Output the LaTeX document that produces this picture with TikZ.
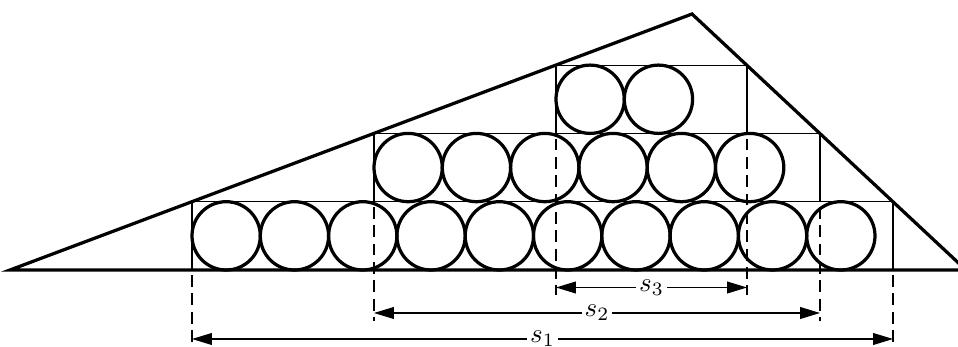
\documentclass[tikz,border=0pt]{standalone}
\usetikzlibrary{arrows.meta}
\begin{document}
\begin{tikzpicture}[x=0.37037pt,y=-0.37037pt,
  edge/.style={line width=1.2pt},
  ball/.style={circle,draw,line width=1.2pt,inner sep=0pt,minimum size=25.3pt},
  box/.style={line width=0.4pt},
  guide/.style={line width=0.4pt,dash pattern=on 4.4pt off 2.4pt},
  dim/.style={line width=0.4pt,{Triangle[length=7.4pt,width=4.4pt]}-{Triangle[length=7.4pt,width=4.4pt]}},
  lbl/.style={fill=white,inner sep=1pt}]
\useasboundingbox (0,0) rectangle (958,347);
\clip (0,0) rectangle (958,347);
% rows: corners
\coordinate (r1bl) at (192,270);   \coordinate (r1tr) at (893,201.7);
\coordinate (r2bl) at (374,201.7); \coordinate (r2tr) at (820,133.4);
\coordinate (r3bl) at (556,133.4); \coordinate (r3tr) at (747,65.1);
\coordinate (r1tl) at (192,201.7); \coordinate (r2tl) at (374,133.4); \coordinate (r3tl) at (556,65.1);
% guide ends
\coordinate (g1l) at (192,347); \coordinate (g1r) at (893,347);
\coordinate (g2l) at (374,321); \coordinate (g2r) at (820,321);
\coordinate (g3l) at (556,295); \coordinate (g3r) at (747,295);
% dimension ends
\coordinate (d1l) at (192,339);  \coordinate (d1r) at (893,339);
\coordinate (d2l) at (374,313);  \coordinate (d2r) at (820,313);
\coordinate (d3l) at (556,287.5);\coordinate (d3r) at (747,287.5);
% boxes
\draw[box] (r1bl) rectangle (r1tr);
\draw[box] (r2bl) rectangle (r2tr);
\draw[box] (r3bl) rectangle (r3tr);
% guides
\draw[guide] (r1tl) -- (g1l);
\draw[guide] (r1tr) -- (g1r);
\draw[guide] (r2tl) -- (g2l);
\draw[guide] (r2tr) -- (g2r);
\draw[guide] (r3tl) -- (g3l);
\draw[guide] (r3tr) -- (g3r);
% circles
\foreach \i in {0,...,9} \node[ball] (a\i) at ({226.15+68.3*\i},235.85) {};
\foreach \i in {0,...,5} \node[ball] (b\i) at ({408.15+68.3*\i},167.55) {};
\foreach \i in {0,...,1} \node[ball] (c\i) at ({590.15+68.3*\i},99.25) {};
% triangle
\coordinate (A) at (10,270);
\coordinate (B) at (692,14);
\coordinate (C) at (966,270);
\draw[edge] (A) -- (B) -- (C) -- cycle;
% dimensions
\draw[dim] (d3l) -- node[lbl] (s3) {$s_3$} (d3r);
\draw[dim] (d2l) -- node[lbl] (s2) {$s_2$} (d2r);
\draw[dim] (d1l) -- node[lbl] (s1) {$s_1$} (d1r);
\end{tikzpicture}
\end{document}
